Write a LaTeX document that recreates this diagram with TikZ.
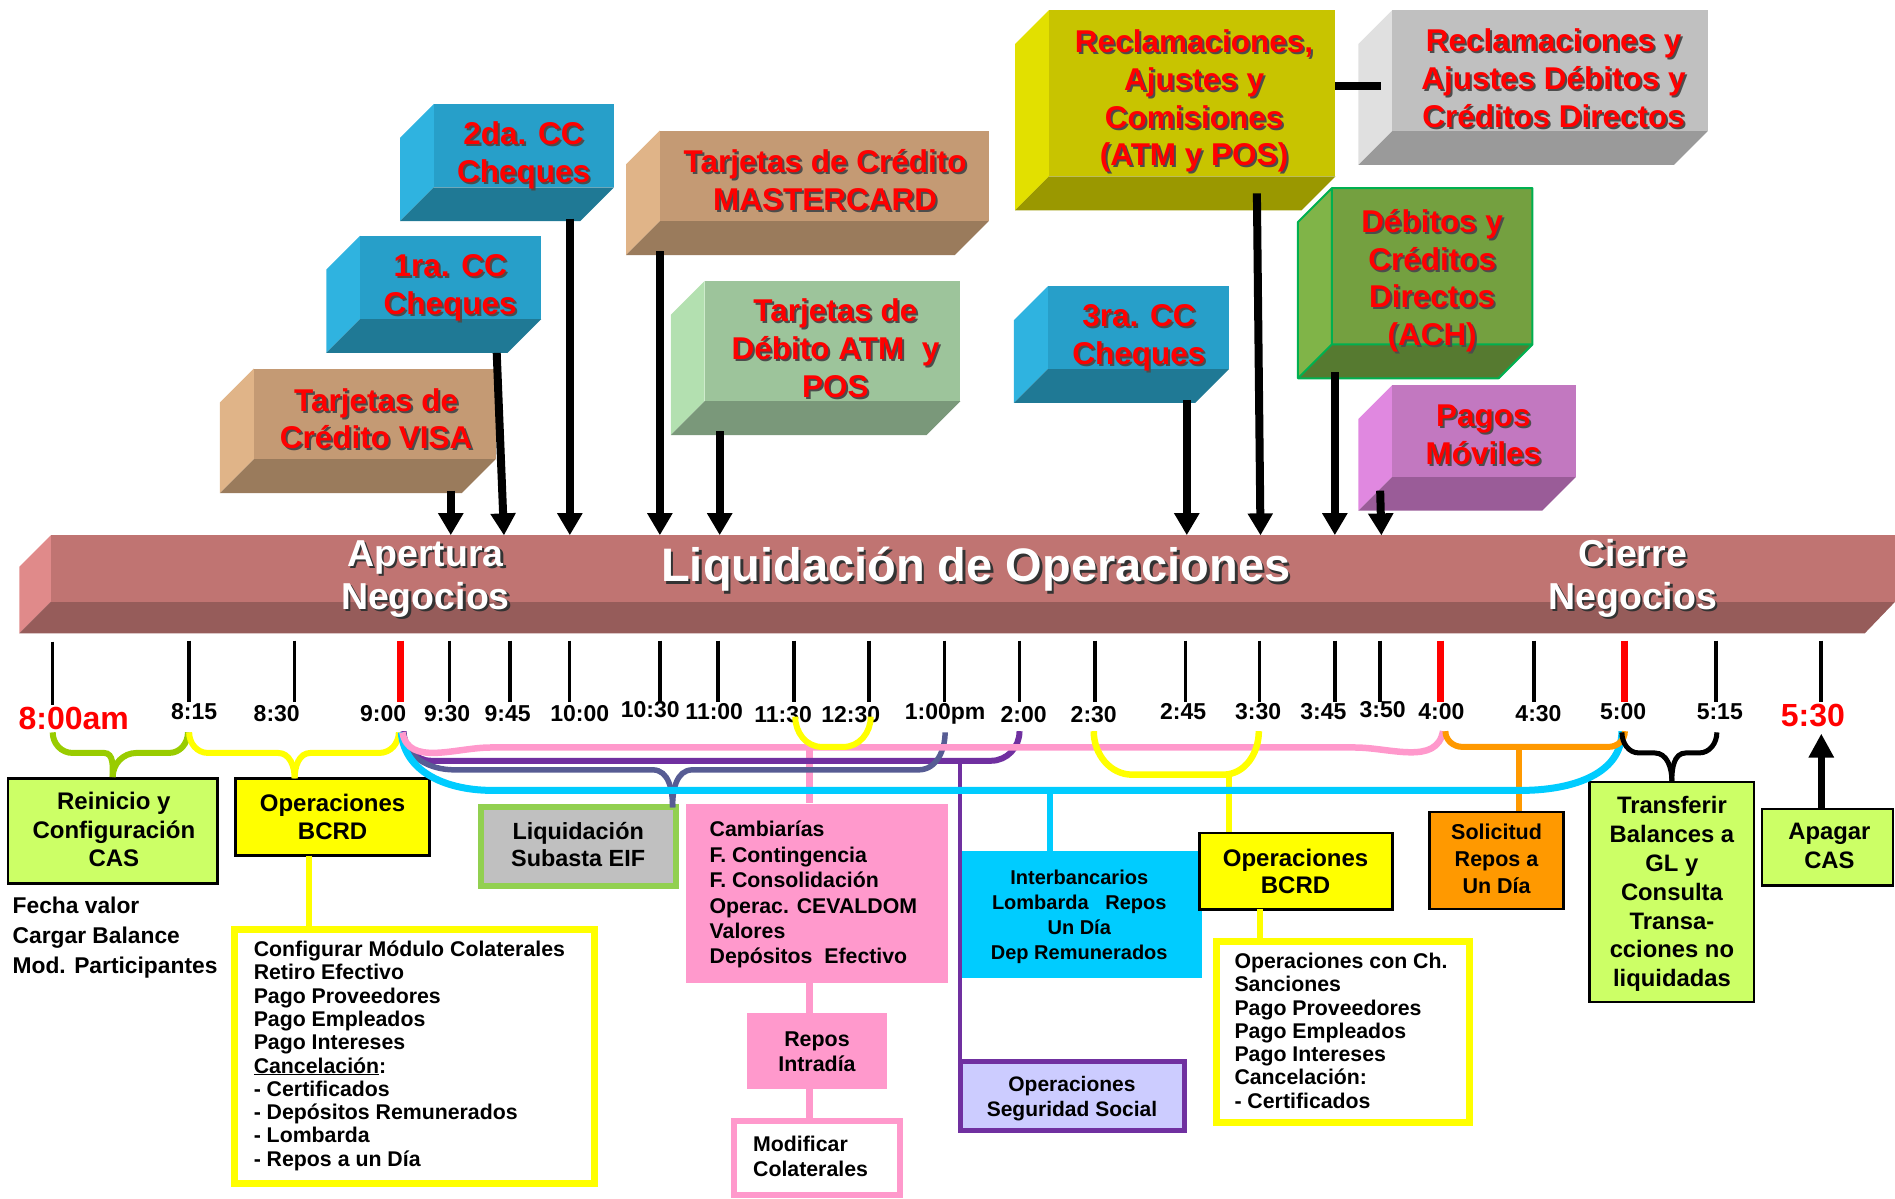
\documentclass[tikz,border=0pt]{standalone}
\usepackage{fontspec}
\setmainfont{Liberation Sans}
\usetikzlibrary{arrows.meta,fit}
\definecolor{barmain}{HTML}{C07472}
\definecolor{bardark}{HTML}{965C5A}
\definecolor{barlight}{HTML}{E08A8A}
\definecolor{blueF}{HTML}{279FC9}
\definecolor{blueL}{HTML}{2FB3E0}
\definecolor{blueB}{HTML}{1F7995}
\definecolor{tanF}{HTML}{C49A74}
\definecolor{tanL}{HTML}{E0B488}
\definecolor{tanB}{HTML}{9A7B5C}
\definecolor{grnF}{HTML}{9DC49B}
\definecolor{grnL}{HTML}{B3E0B0}
\definecolor{grnB}{HTML}{7A987A}
\definecolor{oliF}{HTML}{C8C400}
\definecolor{oliL}{HTML}{E2E000}
\definecolor{oliB}{HTML}{9A9800}
\definecolor{gryF}{HTML}{C0C0C0}
\definecolor{gryL}{HTML}{E0E0E0}
\definecolor{gryB}{HTML}{9A9A9A}
\definecolor{achF}{HTML}{74A040}
\definecolor{achL}{HTML}{80B448}
\definecolor{achB}{HTML}{567A30}
\definecolor{achE}{HTML}{00B050}
\definecolor{pagF}{HTML}{C278C0}
\definecolor{pagL}{HTML}{E088E0}
\definecolor{pagB}{HTML}{9A5C98}
\definecolor{limeb}{HTML}{CCFF66}
\definecolor{ylw}{HTML}{FFFF00}
\definecolor{pnk}{HTML}{FF99CC}
\definecolor{prp}{HTML}{7030A0}
\definecolor{slt}{HTML}{575C94}
\definecolor{cyn}{HTML}{00CCFF}
\definecolor{org}{HTML}{FF9900}
\definecolor{brc}{HTML}{99CC00}
\definecolor{lgrn}{HTML}{92D050}
\definecolor{lav}{HTML}{CCCCFF}
\definecolor{gryb}{HTML}{C0C0C0}
\newcommand\fsz[2]{\fontsize{#1}{#2}\selectfont}
\newcommand\shd[1]{\makebox[0pt][l]{\hspace*{2pt}\raisebox{-2pt}{\textcolor{black!70}{#1}}}#1}
\newcommand\shw[1]{\makebox[0pt][l]{\hspace*{2.5pt}\raisebox{-2.5pt}{\textcolor{black!80}{#1}}}#1}
\newcommand\tdblock[8]{%
  \fill[#6] (#1,{#2+28}) -- ({#1+28},#2) -- ({#1+28},{#4-28}) -- (#1,#4) -- cycle;
  \fill[#7] (#1,#4) -- ({#1+28},{#4-28}) -- (#3,{#4-28}) -- ({#3-28},#4) -- cycle;
  \node[fit={({#1+28},#2) (#3,{#4-28})}, inner sep=0pt, fill=#5] (#8) {};
}
\begin{document}
\begin{tikzpicture}[x=1.2086pt,y=-1.2086pt,
  toptext/.style={text=red, font=\bfseries\fsz{31.5}{37.8}, align=center, anchor=base, inner sep=0pt},
  bartext/.style={text=white, font=\bfseries\fsz{37.5}{43}, align=center, anchor=base, inner sep=0pt},
  tl/.style={font=\bfseries\fsz{23}{23}, anchor=base, inner sep=0pt},
  tlr/.style={text=red, font=\bfseries\fsz{32}{32}, anchor=base, inner sep=0pt},
  tickk/.style={line width=3.6pt, black},
  tickr/.style={line width=7pt, red},
  arr/.style={line width=8pt, -{Triangle[width=24pt,length=22pt]}},
  bx/.style={inner sep=0pt, draw=black, line width=2.5pt},
  ct/.style={align=center, anchor=base, inner sep=0pt},
  lst/.style={align=left, anchor=base west, inner sep=0pt},
]
\useasboundingbox (0,0) rectangle (1568,992);

% ---------- main bar ----------
\fill[barlight] (16,469) -- (42,443) -- (42,498) -- (16,524) -- cycle;
\fill[bardark] (16,524) -- (42,498) -- (1568,498) -- (1543,524) -- cycle;
\node[fit={(42,443) (1568,498)}, inner sep=0pt, fill=barmain] (bar) {};
\node[bartext] (apert) at (352,504) {\shw{Apertura}\\\shw{Negocios}};
\node[bartext, font=\bfseries\fsz{47}{47}] (liq) at (807.5,481.3) {\shw{Liquidación de Operaciones}};
\node[bartext] (cierre) at (1351,504) {\shw{Cierre}\\\shw{Negocios}};

% ---------- top blocks ----------
\tdblock{182}{305}{410}{408}{tanF}{tanL}{tanB}{visa}
\tdblock{270}{195}{448}{292}{blueF}{blueL}{blueB}{cc1}
\tdblock{331}{86}{508}{183}{blueF}{blueL}{blueB}{cc2}
\tdblock{518}{108}{818}{211}{tanF}{tanL}{tanB}{mc}
\tdblock{555}{232.6}{794.6}{360}{grnF}{grnL}{grnB}{atm}
\tdblock{840}{8.3}{1105}{174}{oliF}{oliL}{oliB}{recl}
\tdblock{1124}{8.3}{1413}{136.5}{gryF}{gryL}{gryB}{reclb}
\tdblock{839}{237}{1017}{333.4}{blueF}{blueL}{blueB}{cc3}
\tdblock{1074}{155.7}{1268}{313}{achF}{achL}{achB}{ach}
\draw[achE, line width=2pt, line join=round] (1074,183.7) -- (1102,155.7) -- (1268,155.7) -- (1268,285) -- (1240,313) -- (1074,313) -- cycle
  (1102,155.7) -- (1102,285) -- (1268,285) (1102,285) -- (1074,313);
\tdblock{1124}{318.6}{1304}{422.6}{pagF}{pagL}{pagB}{pagos}

\node[toptext] (visaT) at (311.3,371.5) {\shd{Tarjetas de}\\\shd{Crédito VISA}};
\node[toptext] (cc1T) at (372.5,260.2) {\shd{1ra. CC}\\\shd{Cheques}};
\node[toptext] (cc2T) at (433.2,150.8) {\shd{2da. CC}\\\shd{Cheques}};
\node[toptext] (mcT) at (682.8,174.4) {\shd{Tarjetas de Crédito}\\\shd{MASTERCARD}};
\node[toptext] (atmT) at (691.3,328.5) {\shd{Tarjetas de}\\\shd{Débito ATM\ \ y}\\\shd{POS}};
\node[toptext] (reclT) at (988,137.2) {\shd{Reclamaciones,}\\\shd{Ajustes y}\\\shd{Comisiones}\\\shd{(ATM y POS)}};
\node[toptext] (reclbT) at (1285.5,105.3) {\shd{Reclamaciones y}\\\shd{Ajustes Débitos y}\\\shd{Créditos Directos}};
\node[toptext] (cc3T) at (942.4,301.5) {\shd{3ra. CC}\\\shd{Cheques}};
\node[toptext] (achT) at (1185,286) {\shd{Débitos y}\\\shd{Créditos}\\\shd{Directos}\\\shd{(ACH)}};
\node[toptext] (pagT) at (1227.4,384) {\shd{Pagos}\\\shd{Móviles}};

% connector between reclamation boxes
\coordinate (rcA) at (1105,71);
\coordinate (rcB) at (1143,71);
\draw[line width=8.5pt] (rcA) -- (rcB);

% arrows to bar
\coordinate (aVisa) at (373,406);
\coordinate (aCC1) at (411,292);
\coordinate (aCC1e) at (417,443);
\coordinate (aCC2) at (471.5,181);
\coordinate (aMC) at (546,208);
\coordinate (aATM) at (595.5,357);
\coordinate (aCC3) at (982,331);
\coordinate (aRecl) at (1040,160);
\coordinate (aReclE) at (1043,443);
\coordinate (aACH) at (1104.5,308);
\coordinate (aPag) at (1142,406);
\coordinate (aPagE) at (1143,443);
\draw[arr] (aVisa) -- (aVisa |- bar.north);
\draw[arr] (aCC1) -- (aCC1e);
\draw[arr] (aCC2) -- (aCC2 |- bar.north);
\draw[arr] (aMC) -- (aMC |- bar.north);
\draw[arr] (aATM) -- (aATM |- bar.north);
\draw[arr] (aCC3) -- (aCC3 |- bar.north);
\draw[arr] (aRecl) -- (aReclE);
\draw[arr] (aACH) -- (aACH |- bar.north);
\draw[arr] (aPag) -- (aPagE);

% ---------- ticks ----------
\draw[tickk] (43.6,531) -- (43.6,583);
\foreach \x in {156.2,243.8,372,421.8,471.3,546,594,656.8,718.8,781.6,843.6,906,981,1042,1104.6,1141.8,1269.3,1419.8,1506.7}
  \draw[tickk] (\x,530) -- (\x,581);
\foreach \x in {331.3,1191.5,1344.5}
  \draw[tickr] (\x,530) -- (\x,581);

% ---------- tick labels ----------
\node[tlr] (t800) at (61,604) {8:00am};
\node[tl] (t815) at (160.6,595) {8:15};
\node[tl] (t830) at (229,597) {8:30};
\node[tl] (t900) at (317,597) {9:00};
\node[tl] (t930) at (370,597) {9:30};
\node[tl] (t945) at (420,597) {9:45};
\node[tl] (t1000) at (479.7,597) {10:00};
\node[tl] (t1030) at (538,594) {10:30};
\node[tl] (t1100) at (591,595.7) {11:00};
\node[tl] (t1130) at (648,598) {11:30};
\node[tl] (t1230) at (704,598) {12:30};
\node[tl] (t100) at (782,595.7) {1:00pm};
\node[tl] (t200) at (847,598) {2:00};
\node[tl] (t230) at (905,598) {2:30};
\node[tl] (t245) at (979,595.7) {2:45};
\node[tl] (t330) at (1041,595.7) {3:30};
\node[tl] (t345) at (1095,595.7) {3:45};
\node[tl] (t350) at (1144,594) {3:50};
\node[tl] (t400) at (1192.7,595) {4:00};
\node[tl] (t430) at (1273,597) {4:30};
\node[tl] (t500) at (1343,595) {5:00};
\node[tl] (t515) at (1423,595) {5:15};
\node[tlr] (t530) at (1500,601) {5:30};

% ---------- boxes below ----------
\node[bx, fit={(6.5,644) (180,731)}, fill=limeb] (reinicio) {};
\node[ct, font=\bfseries\fsz{24}{28.4}] (reinicioT) at (94.2,717.1) {Reinicio y\\Configuración\\CAS};
\node[lst, font=\bfseries\fsz{22.8}{30}] (fecha) at (10.3,805.3) {Fecha valor\\Cargar Balance\\Mod. Participantes};

\node[bx, fit={(195,644) (355.5,708)}, fill=ylw] (bcrd1) {};
\node[ct, font=\bfseries\fsz{24}{28}] (bcrd1T) at (275.2,694.5) {Operaciones\\BCRD};

\node[inner sep=0pt, draw=ylw, line width=7pt, fill=white, fit={(194.3,769) (492,979)}] (lst1box) {};
\node[lst, font=\bfseries\fsz{21.3}{23.3}] (lst1) at (209.8,965) {Configurar Módulo Colaterales\\Retiro Efectivo\\Pago Proveedores\\Pago Empleados\\Pago Intereses\\\underline{Cancelación}:\\- Certificados\\- Depósitos Remunerados\\- Lombarda\\- Repos a un Día};

\node[inner sep=0pt, draw=lgrn, line width=6pt, fill=gryb, fit={(397.7,668) (559,733.3)}] (subasta) {};
\node[ct, font=\bfseries\fsz{23.4}{27.4}] (subastaT) at (478.4,717) {Liquidación\\Subasta EIF};

\node[inner sep=0pt, fill=pnk, fit={(568,665) (784,813)}] (pink) {};
\node[lst, font=\bfseries\fsz{21.3}{25.4}] (pinkT) at (587,797.6) {Cambiarías\\F. Contingencia\\F. Consolidación\\Operac. CEVALDOM\\Valores\\Depósitos\ \ Efectivo};

\node[inner sep=0pt, fill=pnk, fit={(618,838) (734,901)}] (repos) {};
\node[ct, font=\bfseries\fsz{21.4}{25}] (reposT) at (676,886.7) {Repos\\Intradía};

\node[inner sep=0pt, draw=pnk, line width=6pt, fill=white, fit={(607.5,927.8) (744.3,988.8)}] (modif) {};
\node[lst, font=\bfseries\fsz{21.3}{24.8}] (modifT) at (623,973.6) {Modificar\\Colaterales};

\node[inner sep=0pt, draw=prp, line width=5pt, fill=lav, fit={(794.6,878.5) (979.8,935.7)}] (segur) {};
\node[ct, font=\bfseries\fsz{21}{25}] (segurT) at (887,924) {Operaciones\\Seguridad Social};

\node[inner sep=0pt, fill=cyn, fit={(796,704) (994.4,809.5)}] (inter) {};
\node[ct, font=\bfseries\fsz{20}{25}] (interT) at (893,794.3) {Interbancarios\\Lombarda\ \ \ Repos\\Un Día\\Dep Remunerados};

\node[bx, fit={(992.6,689.4) (1152.4,752.5)}, fill=ylw] (bcrd2) {};
\node[ct, font=\bfseries\fsz{24}{26.6}] (bcrd2T) at (1072,739) {Operaciones\\BCRD};

\node[inner sep=0pt, draw=ylw, line width=7pt, fill=white, fit={(1006.2,779.3) (1215.7,928.8)}] (lst2box) {};
\node[lst, font=\bfseries\fsz{21.3}{23.3}] (lst2) at (1021.3,917) {Operaciones con Ch.\\Sanciones\\Pago Proveedores\\Pago Empleados\\Pago Intereses\\Cancelación:\\- Certificados};

\node[bx, fit={(1182.8,672) (1293.8,752)}, fill=org] (solic) {};
\node[ct, font=\bfseries\fsz{21.5}{26.7}] (solicT) at (1238.3,739) {Solicitud\\Repos a\\Un Día};

\node[bx, fit={(1315.3,647.2) (1451.4,829.2)}, fill=limeb] (transf) {};
\node[ct, font=\bfseries\fsz{23.8}{28.8}] (transfT) at (1383.4,816.4) {Transferir\\Balances a\\GL y\\Consulta\\Transa-\\cciones no\\liquidadas};

\node[bx, fit={(1458,669.3) (1566.5,732.6)}, fill=limeb] (apagar) {};
\node[ct, font=\bfseries\fsz{23.8}{28.4}] (apagarT) at (1513.7,718.5) {Apagar\\CAS};

% ---------- stems ----------
\coordinate (s1) at (256,708);
\draw[ylw, line width=6pt] (s1) -- (s1 |- lst1box.north);
\coordinate (sp1) at (670,618.5);
\draw[pnk, line width=6.5pt] (sp1) -- (sp1 |- pink.north);
\coordinate (sp2) at (670,813);
\draw[pnk, line width=6.5pt] (sp2) -- (sp2 |- repos.north);
\coordinate (sp3) at (670,901);
\draw[pnk, line width=6.5pt] (sp3) -- (sp3 |- modif.north);
\coordinate (pv) at (794.3,629.5);
\draw[prp, line width=4.5pt] (pv) -- (pv |- segur.north);
\coordinate (so) at (1257,618);
\draw[org, line width=6pt] (so) -- (so |- solic.north);
\coordinate (sy2) at (1042.4,752.5);
\draw[ylw, line width=6pt] (sy2) -- (sy2 |- lst2box.north);
\coordinate (sy) at (1017,641);
\draw[ylw, line width=6.5pt] (sy) -- (sy |- bcrd2.north);
\coordinate (sc) at (869,654);
\draw[cyn, line width=6.5pt] (sc) -- (sc |- inter.north);

% ---------- curves ----------
\draw[brc, line width=6pt] (43.6,606) to[out=-90,in=180] (60,623) -- (86,623) to[out=0,in=90] (reinicio.north);
\draw[brc, line width=6pt] (155.5,606) to[out=-90,in=0] (140,623) -- (113,623) to[out=180,in=90] (reinicio.north);
\coordinate (yb) at (243.8,644);
\draw[ylw, line width=6pt] (156.5,606) to[out=-90,in=180] (172,623) -- (230,623) to[out=0,in=90] (yb);
\draw[ylw, line width=6pt] (330,606) to[out=-90,in=0] (314,623) -- (257,623) to[out=180,in=90] (yb);

\draw[prp, line width=6pt] (334,605) to[out=-90,in=180] (357,629.5) -- (820,629.5) to[out=0,in=-90] (843.6,605);
\coordinate (sb) at (556.5,668);
\draw[slt, line width=5.5pt] (334,606) to[out=-88,in=180] (376,637) -- (540,637) to[out=0,in=90] (sb);
\draw[slt, line width=5.5pt] (782,606) to[out=-90,in=0] (760,637) -- (573,637) to[out=180,in=90] (sb);
\draw[cyn, line width=7pt] (332,606) to[out=-85,in=180] (407,654) -- (1259,654) to[out=0,in=-90] (1342,605);
\draw[pnk, line width=6.5pt] (333,606) to[out=-80,in=180] (406,618.5) -- (1121,618.5) to[out=0,in=-100] (1194,605);
\draw[org, line width=6pt] (1196,605) to[out=-90,in=180] (1210,618) -- (1331,618) to[out=0,in=-90] (1344.5,605);
\draw[ylw, line width=6pt] (658,593) to[out=-90,in=180] (680,618) -- (698,618) to[out=0,in=-90] (720.5,593);
\draw[ylw, line width=6.5pt] (905,605) to[out=-90,in=180] (937,641) -- (1012,641) to[out=0,in=-90] (1041.6,605);
\draw[black, line width=5pt] (1342,606) to[out=-90,in=180] (1356,623) -- (1369,623) to[out=0,in=90] (transf.north);
\draw[black, line width=5pt] (1420.6,606) to[out=-90,in=0] (1406,623) -- (1395,623) to[out=180,in=90] (transf.north);

% Apagar arrow
\coordinate (ap) at (1507,669.3);
\coordinate (apTip) at (1507,607);
\draw[line width=7.5pt, -{Triangle[width=24pt,length=24pt]}] (ap) -- (apTip);
\end{tikzpicture}
\end{document}
